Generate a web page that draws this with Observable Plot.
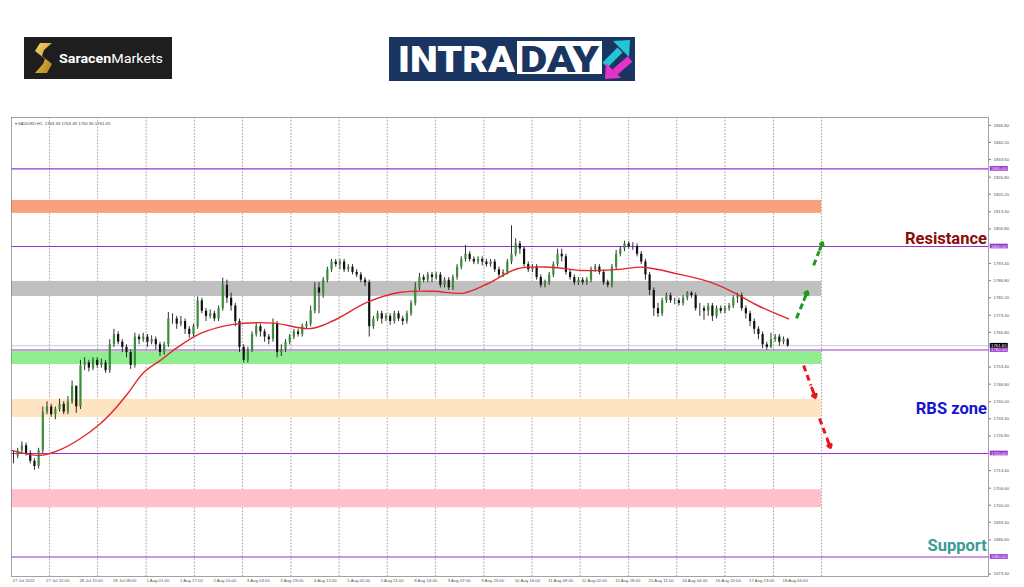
<!DOCTYPE html>
<html><head><meta charset="utf-8">
<script src="https://cdn.jsdelivr.net/npm/d3@7"></script>
<script src="https://cdn.jsdelivr.net/npm/@observablehq/plot@0.6"></script>
<style>
html,body{margin:0;padding:0;background:#fff;width:1024px;height:587px;overflow:hidden;font-family:Roboto,"Liberation Sans",sans-serif;}
#page{position:relative;width:1024px;height:587px;}
#chart{position:absolute;left:0;top:110px;}
.logo{position:absolute;display:block;}
</style></head><body>
<div id="page">
<svg class="logo" style="left:24px;top:37px" width="148" height="42">
  <defs><linearGradient id="gold" x1="0" y1="0" x2="1" y2="1"><stop offset="0" stop-color="#f9d76e"/><stop offset="1" stop-color="#b07d12"/></linearGradient></defs>
  <rect width="148" height="42" fill="#1e1e1e"/>
  <path d="M28 6 L16 6 L11 14 L21 22 L19 27 L11 36 L23 36 L28 27 L18 19 L20 13 Z" fill="url(#gold)"/>
  <text x="35" y="26" fill="#fff" font-family="Roboto" font-size="13.5" textLength="104" lengthAdjust="spacingAndGlyphs"><tspan font-weight="700">Saracen</tspan><tspan font-weight="400">Markets</tspan></text>
</svg>
<svg class="logo" style="left:389px;top:37px" width="246" height="44">
  <rect width="246" height="44" fill="#1b3563"/>
  <text x="9" y="35" fill="#fff" font-family="Roboto" font-weight="900" font-size="37" textLength="117" lengthAdjust="spacingAndGlyphs">INTRA</text>
  <rect x="128" y="4" width="85" height="33" fill="#fff"/>
  <text x="131" y="35" fill="#1b3563" font-family="Roboto" font-weight="900" font-size="37" textLength="79" lengthAdjust="spacingAndGlyphs">DAY</text>
  <line x1="216" y1="28" x2="231" y2="13" stroke="#22c7d6" stroke-width="7"/>
  <polygon points="241,3 224,4 240,20" fill="#22c7d6"/>
  <line x1="241" y1="22" x2="226" y2="35" stroke="#e632c8" stroke-width="7"/>
  <polygon points="216,42 217,26 232,41" fill="#e632c8"/>
</svg>
<div id="chart"></div>
</div>
<script>
// ---- data (2-hour candles, XAUUSD) ----
const firstOpen = 1719;
const closes = [1719,1721,1723,1720,1717,1715,1721,1736,1738,1735,
1737,1739,1736,1740,1746,1738,1754,1755,1753,1756,
1754,1755,1752,1762,1766,1763,1761,1759,1754,1765,
1764,1765,1763,1764,1762,1759,1762,1772,1772,1770,
1771,1768,1766,1769,1779,1775,1773,1774,1772,1776,
1785,1780,1777,1771,1761,1756,1760,1766,1769,1767,
1765,1764,1770,1759,1760,1763,1765,1767,1766,1769,
1770,1775,1784,1782,1787,1791,1794,1793,1794,1791,
1792,1790,1789,1787,1786,1769,1772,1774,1772,1773,
1771,1774,1772,1771,1774,1778,1784,1788,1787,1789,
1788,1789,1785,1787,1784,1788,1792,1795,1797,1795,
1794,1795,1794,1793,1794,1791,1789,1790,1794,1797,
1801,1799,1793,1791,1792,1788,1785,1786,1789,1793,
1797,1796,1790,1788,1786,1787,1786,1787,1791,1792,
1790,1786,1785,1792,1797,1799,1801,1800,1800,1797,
1794,1789,1783,1776,1774,1779,1781,1779,1779,1778,
1780,1782,1781,1776,1776,1775,1777,1773,1776,1775,
1776,1777,1780,1781,1776,1774,1771,1768,1766,1762,
1761,1764,1765,1763,1764,1761.65];
const highs = [1721,1722,1724.5,1724,1721,1718,1722,1738,1740,1739,
1738,1741,1740,1742,1748,1746,1756,1757,1756,1757,
1757,1756.5,1756,1764,1768,1767,1764,1762,1760,1766.5,
1766,1766.5,1766,1765.5,1765,1763,1763,1774.5,1774,1773,
1773,1772,1769,1770,1780.5,1780,1776,1775.5,1775,1777,
1787.8,1787,1782,1778,1772,1762,1761,1767,1770.5,1770,
1768,1766,1772,1771,1762,1764,1766,1768,1768,1770,
1771,1777,1786,1786,1788,1792,1795,1795,1795,1795,
1793,1793,1791,1790,1788,1787,1773,1775,1775,1774,
1774,1775,1775,1773,1775,1779,1786,1789.6,1789,1790,
1790,1790,1790,1788,1788,1789,1793,1796,1800.4,1798,
1796,1796,1796,1795,1795,1795,1792,1791,1795,1808,
1803,1802,1800,1794,1793,1793,1789,1787,1790,1794,
1799,1799,1797,1791,1789,1788,1788,1788,1792,1793,
1793,1791,1787,1793,1798.5,1800,1802,1801.8,1801.5,1801,
1798,1795,1790,1784,1778,1780,1782,1782,1780,1780,
1781,1782.5,1782.5,1782,1778,1777,1778,1778,1777,1777,
1777,1778,1781,1782,1782,1777,1775,1772,1769,1767,
1763,1766.5,1766,1766,1765,1764.5];
const lows = [1716,1718,1720,1719,1716,1713.5,1714,1720,1735,1734,
1733,1736,1735,1735,1739,1735.5,1737,1752,1751.5,1752,
1753,1753,1751,1751,1761,1762,1759,1757,1752.5,1753,
1762,1763,1761,1762,1760,1757.5,1758,1761,1770,1768,
1769,1766,1764.5,1765,1768,1774,1771,1772,1771,1771,
1775,1778,1775,1769,1759,1755,1755,1759,1765,1765,
1763,1762,1763,1757,1757.5,1759,1762,1764,1765,1765,
1768,1769,1774,1774,1780,1786,1790,1792,1791,1790,
1790,1789,1788,1786,1784.5,1765,1768,1771,1770,1771,
1769.5,1770,1771,1769.5,1770,1773,1777,1783,1786,1786,
1786,1787,1784,1784,1783,1783,1787,1791,1794,1794,
1793,1793,1792.5,1792,1792,1790,1788,1788,1789,1793,
1796,1797,1792,1790,1790,1787,1784,1784,1785,1788,
1792,1794,1789,1787,1785,1785,1785,1785,1786,1790,
1789,1785,1784,1784,1791,1796,1798,1799,1798.5,1796,
1793,1787,1781,1773,1772.6,1773,1778,1778,1777.5,1777,
1777,1779,1780,1775,1773,1771.5,1773,1771,1772,1774,
1774,1775,1776,1778,1775,1772,1769,1766,1764,1760.5,
1760,1760.5,1763,1761.5,1762,1761];

// moving average (read at knots along the red line)
const maJ = [-0.48,6.45,11.2,16,20.8,23.9,27.2,31.1,35.1,39.2,44.7,52.6,62.1,71,76.5,84.6,92.5,100.4,107.5,113.3,120.4,128.3,136.2,144.3,150.5,158.7,166.5,172,177.8,185.2];
const maV = [1721.2,1719.3,1721.5,1725.8,1731.6,1736.6,1743,1751.3,1756,1761,1766.4,1769.9,1770.4,1768.3,1771.4,1778.5,1782.3,1782.7,1782,1785.6,1791.4,1792,1790.7,1791.1,1792,1789.4,1786.2,1782.3,1777.2,1772];

const xLabels = ["27 Jul 2022","27 Jul 22:00","28 Jul 15:00","29 Jul 08:00","1 Aug 01:00","1 Aug 17:00","2 Aug 10:00","3 Aug 03:00","3 Aug 19:00","4 Aug 12:00","5 Aug 05:00","5 Aug 21:00","8 Aug 14:00","9 Aug 07:00","9 Aug 23:00","10 Aug 16:00","11 Aug 09:00","12 Aug 02:00","12 Aug 18:00","15 Aug 11:00","16 Aug 04:00","16 Aug 20:00","17 Aug 13:00","18 Aug 06:00"];
const xLabelAt = [0,8,16,24,32,40,48,56,64,72,80,88,96,104,112,120,128,136,144,152,160,168,176,184];
const gridJ = [8.6,20.1,31.7,43.2,54.7,66.3,77.8,89.3,100.8,112.4,123.9,135.4,147,158.5,170,181.6,193.1];
const yTicks = [1846.8,1840.2,1833.6,1826.8,1820.2,1813.4,1806.8,1793.4,1786.8,1780.2,1773.4,1766.8,1753.4,1746.8,1740,1733.4,1726.8,1713.4,1706.6,1700,1693.4,1686.6,1673.4];

const levels = [1830, 1800, 1760, 1720, 1680];
const lastPrice = 1761.65;
const headerText = "\u25BE XAUUSD,H1  1763.33 1763.49 1760.90 1761.65";

const bandLow   = [1812.8, 1780.7, 1754.4, 1733.9, 1699];
const bandHigh  = [1817.8, 1786.5, 1759.4, 1740.9, 1706];
const bandColor = ["#F7A27D", "#C0C0C0", "#90EE90", "#FFE4C4", "#FFC0CB"];

const arrowX1 = [187.1, 191.2, 188.8, 192.6];
const arrowY1 = [1772.2, 1792.7, 1754.0, 1733.5];
const arrowX2 = [189.7, 193.3, 191.6, 195.2];
const arrowY2 = [1782.6, 1801.5, 1741.6, 1722.3];
const arrowColor = ["#1E9A1E", "#1E9A1E", "#E8161B", "#E8161B"];

const annoText  = ["Resistance", "RBS zone", "Support"];
const annoY     = [1803.1, 1737.4, 1684.4];
const annoColor = ["#8B0A0A", "#1414D2", "#3A9A96"];

// ---- build tables ----
const candles = closes.map((c, i) => ({j: i, open: i === 0 ? firstOpen : closes[i - 1], close: c, high: highs[i], low: lows[i]}));
const ma = maJ.map((j, i) => ({j, v: maV[i]}));
const bands = bandLow.map((lo, i) => ({lo, hi: bandHigh[i], color: bandColor[i]}));
const arrows = arrowX1.map((x1, i) => ({x1, y1: arrowY1[i], x2: arrowX2[i], y2: arrowY2[i], color: arrowColor[i]}));
const shafts = arrows.map(a => ({...a, x2: a.x1 + (a.x2 - a.x1) * 0.62, y2: a.y1 + (a.y2 - a.y1) * 0.62}));
const heads = arrows.map(a => ({...a, x1: a.x1 + (a.x2 - a.x1) * 0.7, y1: a.y1 + (a.y2 - a.y1) * 0.7}));
const annos = annoText.map((t, i) => ({t, y: annoY[i], color: annoColor[i]}));
const labelMap = new Map(xLabelAt.map((j, k) => [j, xLabels[k]]));

const purple = "#9932CC";
const chart = Plot.plot({
  width: 1024, height: 477,
  marginLeft: 11, marginRight: 36, marginTop: 7, marginBottom: 11,
  x: {domain: [-0.48, 232.98]},
  y: {domain: [1672.46, 1849.86]},
  color: {type: "identity"},
  style: {fontFamily: "'Liberation Sans', Arial, sans-serif", fontSize: "4.3px", background: "transparent", overflow: "visible"},
  marks: [
    Plot.ruleX(gridJ, {stroke: "#8a8a8a", strokeWidth: 0.8, strokeDasharray: "1.6,1.6"}),
    Plot.rect(bands, {x1: () => -0.48, x2: () => 193.1, y1: "lo", y2: "hi", fill: "color"}),
    Plot.ruleY([lastPrice], {stroke: "#bdbdbd", strokeWidth: 0.8}),
    Plot.ruleY(levels, {stroke: purple, strokeWidth: 1.2}),
    Plot.ruleX(candles, {x: "j", y1: "low", y2: "high", stroke: "#1a1a1a", strokeWidth: 0.9}),
    Plot.ruleX(candles, {x: "j", y1: "open", y2: "close", stroke: d => d.close >= d.open ? "#3a8f3a" : "#111", strokeWidth: 2.2}),
    Plot.line(ma, {x: "j", y: "v", stroke: "#E3262B", strokeWidth: 1.4, curve: "catmull-rom"}),
    Plot.link(shafts, {x1: "x1", y1: "y1", x2: "x2", y2: "y2", stroke: "color", strokeWidth: 3, strokeDasharray: "6,4"}),
    Plot.arrow(heads, {x1: "x1", y1: "y1", x2: "x2", y2: "y2", stroke: "color", strokeWidth: 3, headLength: 9, headAngle: 70}),
    Plot.frame({stroke: "#8c8c8c", strokeWidth: 0.8}),
    Plot.axisX({ticks: xLabelAt, tickFormat: d => labelMap.get(d), tickSize: 0, tickPadding: 2, textAnchor: "start", fontSize: 4.3, fill: "#555", dx: -1}),
    Plot.axisY({anchor: "right", ticks: yTicks, tickFormat: d => d.toFixed(2), tickSize: 2, tickPadding: 3, fontSize: 4.3, fill: "#555", stroke: "#777"}),
    Plot.rect(levels, {x1: () => 233.4, x2: () => 237.7, y1: d => d - 0.9, y2: d => d + 0.9, fill: purple}),
    Plot.text(levels, {x: () => 233.6, y: d => d, text: d => d.toFixed(2), fill: "#fff", fontSize: 4.3, textAnchor: "start"}),
    Plot.rect([lastPrice], {x1: () => 233.4, x2: () => 237.7, y1: d => d - 0.9, y2: d => d + 0.9, fill: "#000"}),
    Plot.text([lastPrice], {x: () => 233.6, y: d => d, text: d => d.toFixed(2), fill: "#fff", fontSize: 4.3, textAnchor: "start"}),
    Plot.text([headerText], {frameAnchor: "top-left", dx: 3, dy: 4, fontSize: 4.3, fill: "#444"}),
    Plot.text(annos, {x: () => 232.6, y: "y", text: "t", fill: "color", textAnchor: "end", fontSize: 16.5, fontWeight: "bold", fontFamily: "Roboto"})
  ]
});
document.getElementById("chart").appendChild(chart);
</script>
</body></html>
